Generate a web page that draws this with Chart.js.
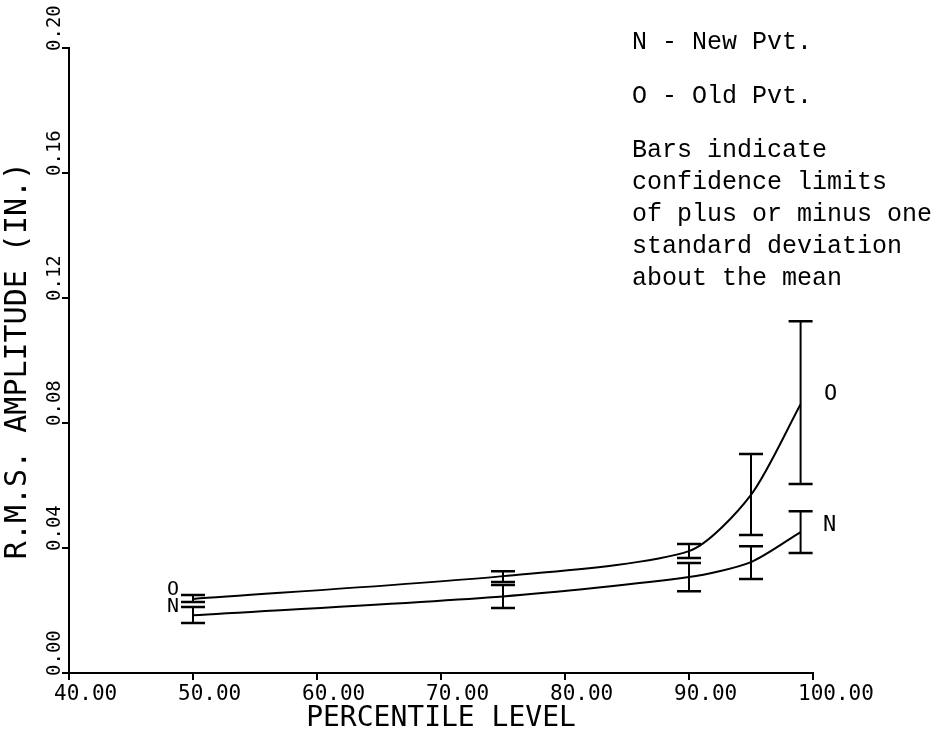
<!DOCTYPE html>
<html lang="en">
<head>
    <meta charset="UTF-8">
    <title>R.M.S. Amplitude vs Percentile Level</title>
    <script src="https://cdn.jsdelivr.net/npm/chart.js"></script>
    <style>
        body { margin: 0; background: #fff; }
        .wrap { position: relative; width: 950px; height: 736px; }
        .notes {
            position: absolute; left: 632px; top: 27px;
            font-family: "Liberation Mono", "DejaVu Sans Mono", monospace;
            font-size: 25px; line-height: 32px; color: #000;
        }
        .notes div { white-space: nowrap; }
        .notes .key { margin-bottom: 22px; }
    </style>
</head>
<body>
<div class="wrap">
    <canvas id="rmsChart" width="950" height="736"></canvas>
    <div class="notes">
        <div class="key">N - New Pvt.</div>
        <div class="key">O - Old Pvt.</div>
        <div>Bars indicate</div>
        <div>confidence limits</div>
        <div>of plus or minus one</div>
        <div>standard deviation</div>
        <div>about the mean</div>
    </div>
</div>

<script>
// values
const percentile = [50, 75, 90, 95, 99];
const newMean  = [0.0185, 0.0245, 0.0307, 0.0355, 0.0451];
const newLower = [0.0160, 0.0208, 0.0262, 0.0301, 0.0384];
const newUpper = [0.0211, 0.0282, 0.0352, 0.0406, 0.0518];
const oldMean  = [0.0237, 0.0310, 0.0390, 0.0570, 0.0860];
const oldLower = [0.0227, 0.0291, 0.0368, 0.0442, 0.0605];
const oldUpper = [0.0250, 0.0326, 0.0413, 0.0701, 0.1126];
const xTickLabels = ['40.00', '50.00', '60.00', '70.00', '80.00', '90.00', '100.00'];
const yTickLabels = ['0.00', '0.04', '0.08', '0.12', '0.16', '0.20'];

const plotFont = '"DejaVu Sans Mono", monospace';

function toPoints(means) {
    return percentile.map((p, i) => ({ x: p, y: means[i] }));
}

// error bars (+/- one std. dev.)
const errorBars = {
    id: 'errorBars',
    afterDatasetsDraw(chart) {
        const { ctx, scales: { x, y } } = chart;
        ctx.save();
        ctx.strokeStyle = '#000';
        [[newLower, newUpper], [oldLower, oldUpper]].forEach(([lo, hi]) => {
            percentile.forEach((p, i) => {
                const px = x.getPixelForValue(p);
                const yl = y.getPixelForValue(lo[i]);
                const yh = y.getPixelForValue(hi[i]);
                ctx.lineWidth = 2;
                ctx.beginPath();
                ctx.moveTo(px, yl);
                ctx.lineTo(px, yh);
                ctx.stroke();
                ctx.lineWidth = 2.5;
                ctx.beginPath();
                ctx.moveTo(px - 12, yl); ctx.lineTo(px + 12, yl);
                ctx.moveTo(px - 12, yh); ctx.lineTo(px + 12, yh);
                ctx.stroke();
            });
        });
        ctx.restore();
    }
};

// O / N markers at both ends of the curves, rotated y tick labels
const extraText = {
    id: 'extraText',
    afterDraw(chart) {
        const { ctx, scales: { x, y } } = chart;
        const last = percentile.length - 1;
        ctx.save();
        ctx.fillStyle = '#000';
        ctx.textAlign = 'center';
        ctx.textBaseline = 'middle';

        ctx.font = '20px ' + plotFont;
        ctx.fillText('O', x.getPixelForValue(percentile[0]) - 20, y.getPixelForValue(oldMean[0]) - 9);
        ctx.fillText('N', x.getPixelForValue(percentile[0]) - 20, y.getPixelForValue(newMean[0]) - 8);

        ctx.font = '22px ' + plotFont;
        ctx.fillText('O', x.getPixelForValue(percentile[last]) + 30, y.getPixelForValue(oldMean[last]) - 10);
        ctx.fillText('N', x.getPixelForValue(percentile[last]) + 29, y.getPixelForValue(newMean[last]) - 7);

        ctx.font = '19px ' + plotFont;
        ctx.textAlign = 'left';
        y.ticks.forEach((t, i) => {
            const py = y.getPixelForValue(t.value);
            ctx.save();
            ctx.translate(55, py + 3);
            ctx.rotate(-Math.PI / 2);
            ctx.fillText(yTickLabels[i], 0, 0);
            ctx.restore();
        });
        ctx.restore();
    }
};

const ctx = document.getElementById('rmsChart').getContext('2d');
const rmsChart = new Chart(ctx, {
    type: 'line',
    data: {
        datasets: [{
            label: 'New Pvt.',
            data: toPoints(newMean),
            borderColor: '#000',
            borderWidth: 2,
            pointRadius: 0,
            tension: 0.25,
            fill: false
        }, {
            label: 'Old Pvt.',
            data: toPoints(oldMean),
            borderColor: '#000',
            borderWidth: 2,
            pointRadius: 0,
            tension: 0.25,
            fill: false
        }]
    },
    options: {
        responsive: false,
        animation: false,
        layout: { padding: { left: 0, top: 48, right: 137, bottom: 0 } },
        plugins: { legend: { display: false }, tooltip: { enabled: false } },
        scales: {
            x: {
                type: 'linear',
                min: 40,
                max: 100,
                afterFit: s => { s.height = 63; },
                border: { display: true, color: '#000', width: 2 },
                grid: { drawOnChartArea: false, drawTicks: true, tickLength: 7, color: '#000', lineWidth: 2 },
                ticks: {
                    stepSize: 10,
                    align: 'start',
                    labelOffset: -15,
                    padding: 2,
                    maxRotation: 0,
                    color: '#000',
                    font: { family: plotFont, size: 21 },
                    callback: (v, i) => xTickLabels[i]
                },
                title: {
                    display: true,
                    text: 'PERCENTILE LEVEL',
                    color: '#000',
                    padding: 0,
                    font: { family: plotFont, size: 28 }
                }
            },
            y: {
                min: 0,
                max: 0.2,
                afterFit: s => { s.width = 69; },
                border: { display: true, color: '#000', width: 2 },
                grid: { drawOnChartArea: false, drawTicks: true, tickLength: 7, color: '#000', lineWidth: 2 },
                ticks: { stepSize: 0.04, display: false },
                title: {
                    display: true,
                    text: 'R.M.S. AMPLITUDE (IN.)',
                    color: '#000',
                    padding: 0,
                    font: { family: plotFont, size: 30 }
                }
            }
        }
    },
    plugins: [errorBars, extraText]
});
</script>
</body>
</html>
